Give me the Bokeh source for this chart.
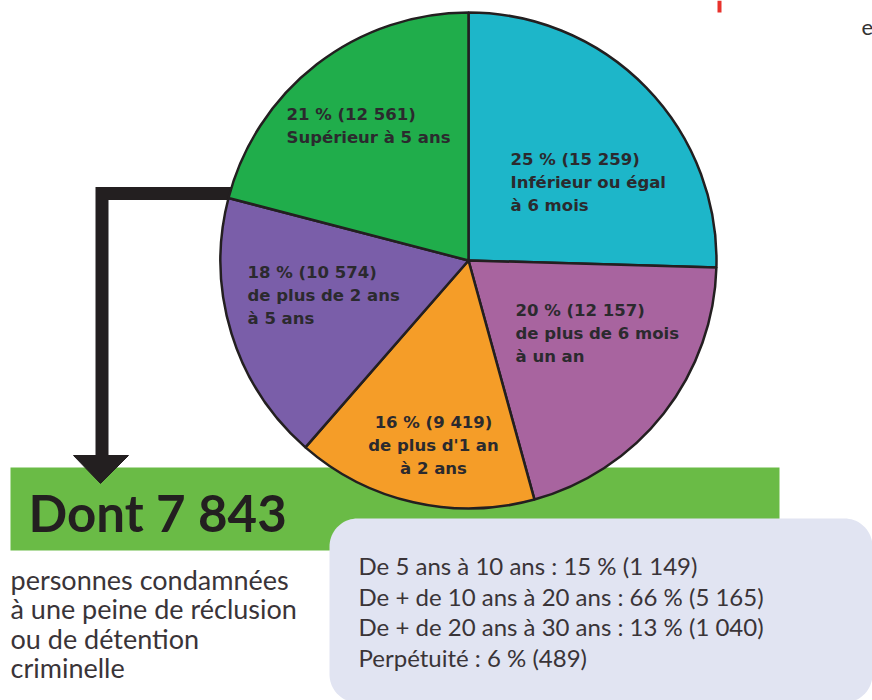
from bokeh.plotting import figure
from bokeh.models import Range1d, ColumnDataSource
from bokeh.core.properties import value
from bokeh.embed import file_html
from bokeh.resources import INLINE
import numpy as np

# ---------------- data ----------------
slice_pct = [25, 20, 16, 18, 21]
slice_counts = [15259, 12157, 9419, 10574, 12561]
slice_desc = ["Inférieur ou égal\nà 6 mois",
              "de plus de 6 mois\nà un an",
              "de plus d'1 an\nà 2 ans",
              "de plus de 2 ans\nà 5 ans",
              "Supérieur à 5 ans"]
slice_colors = ["#1db6c9", "#a8649f", "#f59d28", "#7a5ea9", "#20ad4b"]

headline = "Dont 7 843"
sub_text = ["personnes condamnées",
            "à une peine de réclusion",
            "ou de détention",
            "criminelle"]

detail_labels = ["De 5 ans à 10 ans", "De + de 10 ans à 20 ans",
                 "De + de 20 ans à 30 ans", "Perpétuité"]
detail_pct = [15, 66, 13, 6]
detail_counts = [1149, 5165, 1040, 489]


def fr(n):
    return f"{n:,}".replace(",", " ")


def Y(iy):
    return 700 - iy


# ---------------- figure ----------------
p = figure(width=872, height=700, x_range=Range1d(0, 872), y_range=Range1d(0, 700),
           output_backend="svg", toolbar_location=None, min_border=0,
           x_axis_type=None, y_axis_type=None)
p.grid.visible = False
p.outline_line_color = None
p.background_fill_color = "white"

DARK = "#231f20"

# green band
p.quad(left=10, right=779, top=Y(467), bottom=Y(550), fill_color="#6abb46", line_color=None)

# arrow
p.line(x=[234, 101.5, 101.5], y=[Y(193), Y(193), Y(457)], line_width=13,
       line_color=DARK, line_join="miter")
p.patch(x=[73, 128, 100], y=[Y(455), Y(455), Y(483)], fill_color=DARK, line_color=DARK)

# pie
vals = np.array(slice_counts, dtype=float)
cum = np.concatenate([[0], np.cumsum(vals) / vals.sum()])
start = np.pi / 2 - 2 * np.pi * cum[1:]
end = np.pi / 2 - 2 * np.pi * cum[:-1]
src = ColumnDataSource(dict(start=start, end=end, color=slice_colors))
p.wedge(x=468, y=Y(260), radius=248, start_angle="start", end_angle="end",
        fill_color="color", line_color=DARK, line_width=2.5, source=src)

# pie labels
labels = [f"{pc} % ({fr(c)})\n{d}" for pc, c, d in zip(slice_pct, slice_counts, slice_desc)]
label_pos = [(510, 149), (515, 300), (433, 412), (247, 262), (286, 104)]
left_idx = [0, 1, 3, 4]
p.text(x=[label_pos[i][0] for i in left_idx], y=[Y(label_pos[i][1]) for i in left_idx],
       text=[labels[i] for i in left_idx], text_font=value("DejaVu Sans"),
       text_font_style="bold", text_font_size="16.5px", text_color="#2b2a2e",
       text_baseline="top", text_align="left", text_line_height=1.22)
p.text(x=[label_pos[2][0]], y=[Y(label_pos[2][1])], text=[labels[2]],
       text_font=value("DejaVu Sans"), text_font_style="bold", text_font_size="16.5px",
       text_color="#2b2a2e", text_baseline="top", text_align="center",
       text_line_height=1.22)

# rounded box
def rounded_rect(x0, x1, y0, y1, r, n=20):
    xs, ys = [], []
    corners = [(x1 - r, y1 - r, 0), (x0 + r, y1 - r, 90), (x0 + r, y0 + r, 180), (x1 - r, y0 + r, 270)]
    for cx, cy, a0 in corners:
        t = np.radians(np.linspace(a0, a0 + 90, n))
        xs.extend(cx + r * np.cos(t))
        ys.extend(cy + r * np.sin(t))
    return xs, ys

bx, by = rounded_rect(329, 872, Y(702), Y(518), 28)
p.patch(x=bx, y=by, fill_color="#e1e4f2", line_color=None)

# headline
p.text(x=[28], y=[Y(512)], text=[headline], text_font=value("Lato"), text_font_style="bold",
       text_font_size="51px", text_color=DARK, text_baseline="alphabetic")

# sub text
p.text(x=[10] * len(sub_text), y=[Y(579 + 29.3 * i) for i in range(len(sub_text))],
       text=sub_text, text_font=value("Lato"), text_font_size="27px",
       text_color="#3a3438", text_baseline="alphabetic")

# detail lines
detail = [f"{l} : {pc} % ({fr(c)})" for l, pc, c in zip(detail_labels, detail_pct, detail_counts)]
p.text(x=[358] * len(detail), y=[Y(565 + 30.7 * i) for i in range(len(detail))],
       text=detail, text_font=value("Lato"), text_font_size="24px",
       text_color="#3a3438", text_baseline="alphabetic")

# top remnants
p.line(x=[719, 719], y=[Y(0), Y(12)], line_width=4, line_color="#e8322c")
p.text(x=[861], y=[Y(27)], text=["e"], text_font=value("Lato"), text_font_size="22px",
       text_color="#333333", text_baseline="alphabetic")

open("out.html", "w").write(file_html(p, INLINE))
